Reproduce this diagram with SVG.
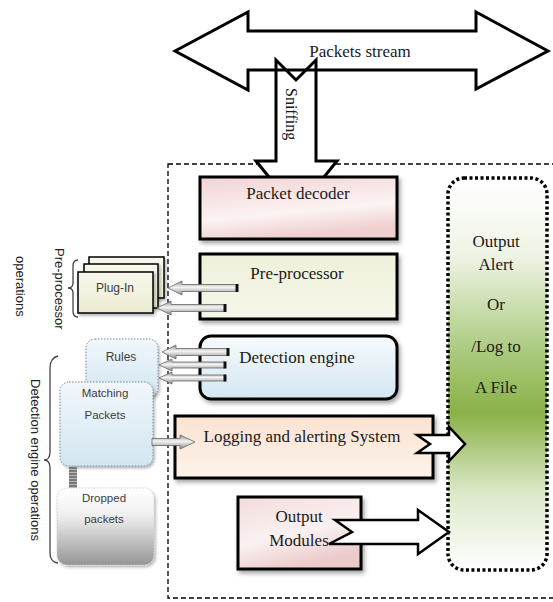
<svg xmlns="http://www.w3.org/2000/svg" width="553" height="602" viewBox="0 0 553 602">
<defs>
  <style>
    .lbl{font-family:"Liberation Serif","Times New Roman",serif;font-size:17px;fill:#1a1a1a;text-anchor:middle}
    .sm{font-family:"Liberation Sans",Arial,sans-serif;font-size:11.5px;fill:#3c3c3c;text-anchor:middle}
    .rot{font-family:"Liberation Sans",Arial,sans-serif;font-size:13px;fill:#222}
    .box{stroke:#000;stroke-width:3}
    .big{fill:none;stroke:#000;stroke-width:3;stroke-linejoin:miter}
    .wa{fill:#fff;stroke:#000;stroke-width:2.5;stroke-linejoin:miter}
    .ga{fill:url(#gArrow);stroke:#666;stroke-width:0.8}
    .cap{stroke:#111;stroke-width:3}
    .brace{fill:none;stroke:#444;stroke-width:1.3}
    .dotb{stroke:#7a8a96;stroke-width:1;stroke-dasharray:1.5 1.5}
  </style>
  <filter id="sh" x="-10%" y="-10%" width="125%" height="130%">
    <feDropShadow dx="2" dy="3" stdDeviation="2" flood-color="#000" flood-opacity="0.35"/>
  </filter>
  <filter id="shs" x="-10%" y="-10%" width="125%" height="130%">
    <feDropShadow dx="1.5" dy="2" stdDeviation="1.5" flood-color="#000" flood-opacity="0.3"/>
  </filter>
  <linearGradient id="gPink" x1="0" y1="0" x2="0.3" y2="1">
    <stop offset="0" stop-color="#f1d3d3"/>
    <stop offset="0.65" stop-color="#fcf3f3"/>
    <stop offset="1" stop-color="#f0cfcf"/>
  </linearGradient>
  <linearGradient id="gPre" x1="0" y1="0" x2="0" y2="1">
    <stop offset="0" stop-color="#eef0da"/>
    <stop offset="1" stop-color="#f6f7ea"/>
  </linearGradient>
  <linearGradient id="gDet" x1="0" y1="0" x2="0" y2="1">
    <stop offset="0" stop-color="#f6fafc"/>
    <stop offset="1" stop-color="#d3e7f1"/>
  </linearGradient>
  <linearGradient id="gLog" x1="0" y1="0" x2="0" y2="1">
    <stop offset="0" stop-color="#fbe2d1"/>
    <stop offset="1" stop-color="#fdf3ea"/>
  </linearGradient>
  <linearGradient id="gOut" x1="0" y1="0" x2="0.4" y2="1">
    <stop offset="0" stop-color="#f3dcdc"/>
    <stop offset="0.6" stop-color="#fbf1f1"/>
    <stop offset="1" stop-color="#eccaca"/>
  </linearGradient>
  <linearGradient id="gGreen" x1="0" y1="0" x2="0" y2="1">
    <stop offset="0" stop-color="#ffffff"/>
    <stop offset="0.2" stop-color="#eef3e4"/>
    <stop offset="0.45" stop-color="#a9c97b"/>
    <stop offset="0.6" stop-color="#8ab148"/>
    <stop offset="0.8" stop-color="#dbe8c8"/>
    <stop offset="1" stop-color="#ffffff"/>
  </linearGradient>
  <linearGradient id="gPlug" x1="0" y1="0" x2="0" y2="1">
    <stop offset="0" stop-color="#f8f8ec"/>
    <stop offset="1" stop-color="#ebebd2"/>
  </linearGradient>
  <linearGradient id="gBlue" x1="0" y1="0" x2="0" y2="1">
    <stop offset="0" stop-color="#f1f7fb"/>
    <stop offset="1" stop-color="#d2e6f1"/>
  </linearGradient>
  <linearGradient id="gDrop" x1="0" y1="0" x2="0" y2="1">
    <stop offset="0" stop-color="#ffffff"/>
    <stop offset="0.35" stop-color="#f0f0f0"/>
    <stop offset="1" stop-color="#959595"/>
  </linearGradient>
  <linearGradient id="gArrow" x1="0" y1="0" x2="0" y2="1">
    <stop offset="0" stop-color="#8c8c8c"/>
    <stop offset="0.45" stop-color="#f4f4f4"/>
    <stop offset="1" stop-color="#8a8a8a"/>
  </linearGradient>
</defs>

<rect width="553" height="602" fill="#fff"/>

<!-- dashed system frame -->
<rect x="168" y="164" width="392" height="434" fill="none" stroke="#000" stroke-width="1.3" stroke-dasharray="5 3"/>

<g id="connectors">
  <!-- sniffing arrow -->
  <path d="M276,60 L296,80 L316,60 L316,161 L337,161 L296.5,211 L256,161 L276,161 Z" fill="#fff" stroke="#000" stroke-width="3"/>
  <!-- packets stream double arrow -->
  <path class="big" d="M175,51 L248,12 L248,31 L476,31 L476,12 L548,51 L476,89 L476,70 L248,70 L248,90 Z"/>
</g>

<text class="lbl" x="360" y="57">Packets stream</text>
<text class="lbl" transform="translate(286,88) rotate(90)" style="text-anchor:start;font-size:16px">Sniffing</text>

<g id="packet-decoder">
  <rect class="box" x="200" y="177" width="197" height="62" fill="url(#gPink)" filter="url(#sh)"/>
  <text class="lbl" x="298" y="199">Packet decoder</text>
</g>

<g id="pre-processor">
  <rect class="box" x="200" y="254" width="197" height="65" fill="url(#gPre)" filter="url(#sh)"/>
  <text class="lbl" x="297" y="279">Pre-processor</text>
</g>

<g id="detection-engine">
  <rect class="box" x="200" y="336" width="197" height="63" rx="11" fill="url(#gDet)" filter="url(#sh)"/>
  <text class="lbl" x="297" y="363">Detection engine</text>
</g>

<g id="logging">
  <rect class="box" x="175" y="416" width="258" height="62" fill="url(#gLog)" filter="url(#sh)"/>
  <text class="lbl" x="302" y="442">Logging and alerting System</text>
</g>

<g id="output-modules">
  <rect class="box" x="238" y="497" width="123" height="72" fill="url(#gOut)" filter="url(#sh)"/>
  <text class="lbl" x="299" y="522">Output</text>
  <text class="lbl" x="299" y="546">Modules</text>
</g>

<g id="output-alert">
  <rect x="448" y="178" width="99" height="392" rx="16" fill="url(#gGreen)" stroke="#000" stroke-width="3.5" stroke-dasharray="3 2.5"/>
  <text class="lbl" x="496" y="247">Output</text>
  <text class="lbl" x="496" y="270">Alert</text>
  <text class="lbl" x="496" y="310">Or</text>
  <text class="lbl" x="496" y="352">/Log to</text>
  <text class="lbl" x="496" y="393">A File</text>
</g>

<g id="plug-in">
  <rect x="89" y="257" width="75" height="41" fill="url(#gPlug)" stroke="#000" stroke-width="1.5" filter="url(#shs)"/>
  <rect x="84" y="264" width="74" height="44" fill="url(#gPlug)" stroke="#000" stroke-width="1.5" filter="url(#shs)"/>
  <rect x="78" y="272" width="75" height="41" fill="url(#gPlug)" stroke="#000" stroke-width="1.5" filter="url(#shs)"/>
  <text class="sm" x="115" y="292" style="font-size:12px">Plug-In</text>
</g>

<g id="rules">
  <rect class="dotb" x="86" y="339" width="72" height="58" rx="9" fill="url(#gBlue)" filter="url(#shs)"/>
  <text class="sm" x="121" y="361" style="font-size:12px">Rules</text>
</g>

<g id="matching-packets">
  <rect class="dotb" x="60" y="382" width="93" height="84" rx="9" fill="url(#gBlue)" filter="url(#shs)"/>
  <text class="sm" x="105" y="397">Matching</text>
  <text class="sm" x="105" y="419">Packets</text>
</g>

<g id="dropped-packets">
  <rect x="57" y="488" width="97" height="77" rx="10" fill="url(#gDrop)" stroke="#cfcfcf" stroke-width="1" stroke-dasharray="1.5 1.5" filter="url(#shs)"/>
  <text class="sm" x="104" y="502">Dropped</text>
  <text class="sm" x="104" y="523">packets</text>
</g>

<g id="connectors-2">
  <!-- pre-processor to plug-in -->
  <path class="ga" d="M168,288 L182,281 L182,284.5 L237,284.5 L237,291.5 L182,291.5 L182,295 Z"/>
  <line class="cap" x1="237" y1="284" x2="237" y2="292"/>
  <path class="ga" d="M157,308 L171,301 L171,304.5 L225,304.5 L225,311.5 L171,311.5 L171,315 Z"/>
  <line class="cap" x1="225" y1="304" x2="225" y2="312"/>
  <!-- detection engine to rules -->
  <path class="ga" d="M162,352 L176,345 L176,348.5 L228,348.5 L228,355.5 L176,355.5 L176,359 Z"/>
  <line class="cap" x1="228" y1="348" x2="228" y2="356"/>
  <path class="ga" d="M159,365 L172,359 L172,362 L225,362 L225,368 L172,368 L172,371 Z"/>
  <line class="cap" x1="225" y1="361.5" x2="225" y2="368.5"/>
  <path class="ga" d="M159,378 L172,372 L172,375 L225,375 L225,381 L172,381 L172,384 Z"/>
  <line class="cap" x1="225" y1="374.5" x2="225" y2="381.5"/>
  <!-- matching to logging -->
  <path class="ga" d="M195,442 L180,435 L180,438.5 L152,438.5 L152,445.5 L180,445.5 L180,449 Z"/>
  <!-- matching to dropped spring -->
  <line x1="73" y1="466" x2="73" y2="488" stroke="#7a7a7a" stroke-width="8"/>
  <line x1="73" y1="466" x2="73" y2="488" stroke="#b5b5b5" stroke-width="8" stroke-dasharray="1 2"/>
  <!-- logging to output alert -->
  <path class="wa" d="M417,435 L430,444 L417,453 L449,453 L449,461 L465,444 L449,427 L449,435 Z"/>
  <!-- output modules to output alert -->
  <path class="wa" d="M335,520 L352,532 L329,544 L418,544 L418,554 L449,532 L418,510 L418,520 Z"/>
</g>

<!-- braces and rotated labels -->
<path class="brace" d="M78,260 Q73,260 73,266 L73,283 Q73,288 68,288 Q73,288 73,293 L73,311 Q73,317 78,317"/>
<path class="brace" d="M58,356 Q50,358 50,368 L50,452 Q50,460 44,460 Q50,460 50,468 L50,553 Q50,562 58,563"/>
<text class="rot" transform="translate(55,248) rotate(90)">Pre-processor</text>
<text class="rot" transform="translate(16,256) rotate(90)">operations</text>
<text class="rot" transform="translate(31,379) rotate(90)">Detection engine operations</text>
</svg>
